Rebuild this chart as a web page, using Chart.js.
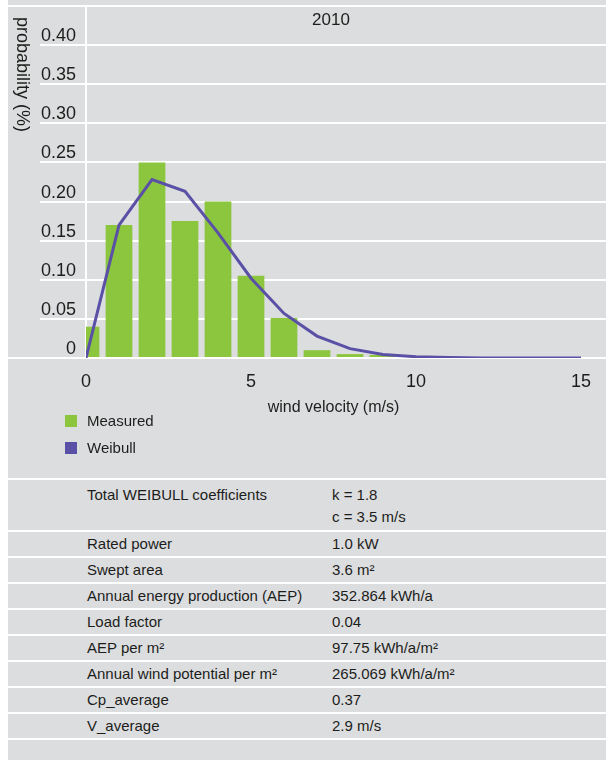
<!DOCTYPE html>
<html>
<head>
<meta charset="utf-8">
<script src="https://cdn.jsdelivr.net/npm/chart.js@4.4.1/dist/chart.umd.min.js"></script>
<style>
  body { margin: 0; background: #fff; font-family: 'Liberation Sans', Arial, sans-serif; color: #1d1d1b; }
  #panel { position: relative; margin-left: 8px; width: 598px; height: 760px; background: #dcdddf; overflow: hidden; }
  #chart { position: absolute; left: 0; top: 0; }
  #yTitle { position: absolute; left: 4px; top: 17px; writing-mode: vertical-rl; font-size: 18px; line-height: 22px; }
  #year { position: absolute; left: 273px; width: 100px; top: 10px; text-align: center; font-size: 17px; line-height: 20px; }
  #legend { position: absolute; left: 57px; top: 407px; font-size: 15px; }
  .item { display: flex; align-items: center; height: 27px; }
  .swatch { width: 12px; height: 12px; margin-right: 10px; }
  #stats { position: absolute; left: 0; right: 0; top: 478px; border-top: 2px solid #fff; font-size: 15px; }
  .row { display: flex; align-items: center; border-bottom: 2px solid #fff; height: 24px; line-height: 21.5px; }
  .row.tall { align-items: flex-start; height: 46px; padding-top: 4px; }
  .row .k { width: 245px; padding-left: 79px; }
</style>
</head>
<body>
<div id="panel">
  <canvas id="chart" width="598" height="420"></canvas>
  <div id="yTitle">probability (%)</div>
  <div id="year">2010</div>
  <div id="legend"></div>
  <div id="stats"></div>
</div>
<script>
const windSpeed = [0, 1, 2, 3, 4, 5, 6, 7, 8, 9, 10, 11, 12, 13, 14, 15];
const measured = [0.04, 0.17, 0.25, 0.175, 0.2, 0.105, 0.051, 0.01, 0.005, 0.004];
const weibull = [0, 0.17, 0.228, 0.213, 0.16, 0.102, 0.057, 0.028, 0.012, 0.0046, 0.0016, 0.0005, 0.0001, 0, 0, 0];
const yTickLabels = ['0', '0.05', '0.10', '0.15', '0.20', '0.25', '0.30', '0.35', '0.40'];
const xTickLabels = ['0', '5', '10', '15'];

const statLabels = ['Total WEIBULL coefficients', 'Rated power', 'Swept area', 'Annual energy production (AEP)',
  'Load factor', 'AEP per m²', 'Annual wind potential per m²', 'Cp_average', 'V_average'];
const statValues = [['k = 1.8', 'c = 3.5 m/s'], ['1.0 kW'], ['3.6 m²'], ['352.864 kWh/a'],
  ['0.04'], ['97.75 kWh/a/m²'], ['265.069 kWh/a/m²'], ['0.37'], ['2.9 m/s']];

const green = '#8cc63f';
const purple = '#5a50a6';

Chart.defaults.font.family = "'Liberation Sans', Arial, sans-serif";
Chart.defaults.color = '#1d1d1b';

// white lines at 0 and at the top, across the whole panel
const edgeLines = {
  id: 'edgeLines',
  beforeDatasetsDraw(chart) {
    const y = chart.scales.y;
    const ctx = chart.ctx;
    ctx.save();
    ctx.strokeStyle = '#fff';
    ctx.lineWidth = 2;
    [y.min, y.max].forEach(v => {
      const py = y.getPixelForValue(v);
      ctx.beginPath();
      ctx.moveTo(0, py);
      ctx.lineTo(chart.width, py);
      ctx.stroke();
    });
    ctx.restore();
  }
};

const chart = new Chart(document.getElementById('chart'), {
  type: 'bar',
  data: {
    datasets: [{
      label: 'Measured',
      data: measured.map((v, i) => ({ x: windSpeed[i], y: v })),
      backgroundColor: green,
      barPercentage: 1,
      categoryPercentage: 0.81,
      order: 1
    }, {
      type: 'line',
      label: 'Weibull',
      data: weibull.map((v, i) => ({ x: windSpeed[i], y: v })),
      borderColor: purple,
      backgroundColor: purple,
      borderWidth: 3,
      pointRadius: 0,
      tension: 0,
      order: 0
    }]
  },
  options: {
    responsive: false,
    animation: false,
    layout: { padding: { top: 6 } },
    plugins: { legend: { display: false }, tooltip: { enabled: false } },
    scales: {
      x: {
        type: 'linear',
        min: 0,
        max: 15,
        offset: false,
        grid: { display: false, drawTicks: false },
        border: { display: false },
        ticks: {
          stepSize: 5,
          padding: 13,
          font: { size: 18 },
          callback: (v, i) => xTickLabels[i]
        },
        title: { display: true, text: 'wind velocity (m/s)', font: { size: 16 }, padding: { top: 0, bottom: 3 } },
        afterFit: s => { s.height = 62; }
      },
      y: {
        min: 0,
        max: 0.45,
        grid: { color: '#fff', lineWidth: 2, tickLength: 46 },
        border: { color: '#fff', width: 2 },
        ticks: {
          stepSize: 0.05,
          padding: -36,
          labelOffset: -9,
          font: { size: 18 },
          callback: (v, i) => yTickLabels[i] || ''
        },
        afterFit: s => { s.width = 78; }
      },
      y2: {
        position: 'right',
        min: 0,
        max: 0.45,
        grid: { color: '#fff', lineWidth: 2, tickLength: 25, drawOnChartArea: false },
        border: { display: false },
        ticks: { stepSize: 0.05, display: false },
        afterFit: s => { s.width = 25; }
      }
    }
  },
  plugins: [edgeLines]
});

const legend = document.getElementById('legend');
chart.data.datasets.forEach(ds => {
  const item = document.createElement('div');
  item.className = 'item';
  const sw = document.createElement('span');
  sw.className = 'swatch';
  sw.style.background = ds.type === 'line' ? ds.borderColor : ds.backgroundColor;
  const txt = document.createElement('span');
  txt.textContent = ds.label;
  item.append(sw, txt);
  legend.append(item);
});

const stats = document.getElementById('stats');
statLabels.forEach((label, i) => {
  const row = document.createElement('div');
  row.className = statValues[i].length > 1 ? 'row tall' : 'row';
  const k = document.createElement('div');
  k.className = 'k';
  k.textContent = label;
  const v = document.createElement('div');
  v.innerHTML = statValues[i].join('<br>');
  row.append(k, v);
  stats.append(row);
});
</script>
</body>
</html>
